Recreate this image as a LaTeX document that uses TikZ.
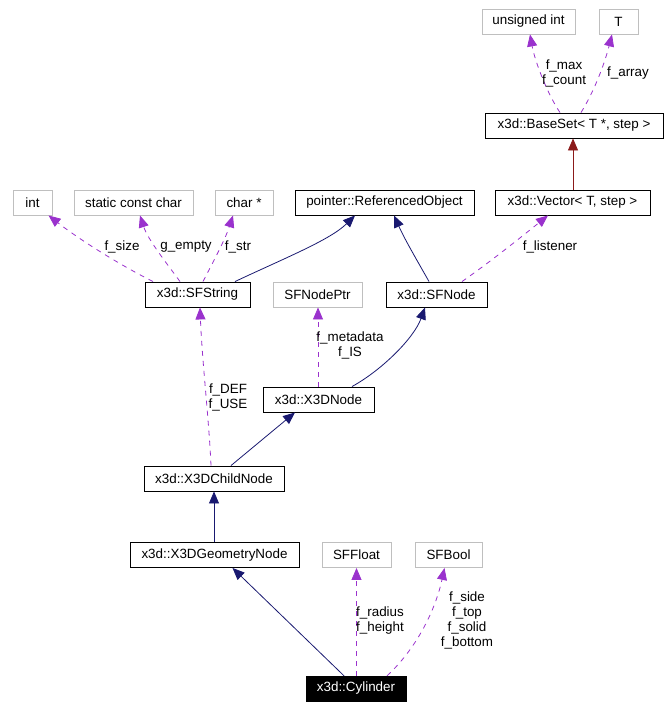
\documentclass[tikz,border=0pt]{standalone}
\usepackage{fontspec}
\setmainfont{Liberation Sans}
\usetikzlibrary{arrows.meta}
\definecolor{usecol}{RGB}{154,50,205}
\definecolor{inhcol}{RGB}{25,25,112}
\definecolor{tplcol}{RGB}{139,26,26}
\definecolor{greybox}{RGB}{191,191,191}
\begin{document}
\begin{tikzpicture}[x=1pt,y=-1pt,
  font=\fontsize{13.4}{15}\selectfont,
  cls/.style={draw=black, line width=0.9pt, minimum height=25pt, inner sep=0pt, fill=white},
  ext/.style={draw=greybox, line width=0.9pt, minimum height=25pt, inner sep=0pt, fill=white},
  cur/.style={draw=black, fill=black, text=white, minimum height=25pt, inner sep=0pt},
  tip/.style={-{Triangle[length=12pt,width=10pt]}},
  inh/.style={tip, draw=inhcol, fill=none, line width=0.8pt},
  tpl/.style={tip, draw=tplcol, line width=0.8pt},
  use/.style={tip, draw=usecol, line width=0.8pt, dash pattern=on 5pt off 5pt},
  lbl/.style={align=center, inner sep=0pt}]
\useasboundingbox (0,0) rectangle (668,708);
% nodes
\node[ext, minimum width=93pt] (uint) at (528.5,21.5) {unsigned int};
\node[ext, minimum width=39pt] (T) at (618.5,21.5) {T};
\node[cls, minimum width=178pt] (baseset) at (574,125.5) {x3d::BaseSet\textless{} T *, step \textgreater};
\node[cls, minimum width=155pt] (vector) at (572.5,202.5) {x3d::Vector\textless{} T, step \textgreater};
\node[ext, minimum width=39pt] (int) at (32.5,202.5) {int};
\node[ext, minimum width=119pt] (scc) at (133.5,202.5) {static const char};
\node[ext, minimum width=58pt] (charp) at (244,202.5) {char *};
\node[cls, minimum width=179pt] (refobj) at (384.5,202.5) {pointer::ReferencedObject};
\node[cls, minimum width=105pt] (sfstring) at (197.5,294.5) {x3d::SFString};
\node[ext, minimum width=89pt] (sfnodeptr) at (317.5,294.5) {SFNodePtr};
\node[cls, minimum width=101pt] (sfnode) at (436.5,294.5) {x3d::SFNode};
\node[cls, minimum width=111pt] (x3dnode) at (318.5,399.5) {x3d::X3DNode};
\node[cls, minimum width=140pt] (child) at (214,478.5) {x3d::X3DChildNode};
\node[cls, minimum width=169pt] (geom) at (214.5,555) {x3d::X3DGeometryNode};
\node[ext, minimum width=69pt] (sffloat) at (356.5,555) {SFFloat};
\node[ext, minimum width=67pt] (sfbool) at (448.5,555) {SFBool};
\node[cur, minimum width=100pt] (cyl) at (356,688.5) {x3d::Cylinder};
% edges
\draw[tpl] ([xshift=0.5pt]vector.north) -- ([xshift=-1pt]baseset.south);
\draw[use] ([xshift=-14pt]baseset.north) .. controls (548,95) and (535,62) .. ([xshift=1.5pt]uint.south);
\draw[use] ([xshift=7pt]baseset.north) .. controls (595,90) and (605,62) .. ([xshift=-6.5pt]T.south);
\draw[use] ([xshift=-44.5pt]sfstring.north) .. controls (120,265) and (80,240) .. ([xshift=16pt]int.south);
\draw[use] ([xshift=-17.5pt]sfstring.north) .. controls (168,265) and (148,240) .. ([xshift=6.5pt]scc.south);
\draw[use] ([xshift=5.5pt]sfstring.north) .. controls (213,262) and (225,240) .. ([xshift=-11pt]charp.south);
\draw[inh] ([xshift=37.5pt]sfstring.north) .. controls (285,258) and (330,240) .. ([xshift=-29.5pt]refobj.south);
\draw[inh] ([xshift=-7.5pt]sfnode.north) .. controls (418,262) and (405,240) .. ([xshift=9.5pt]refobj.south);
\draw[use] ([xshift=25.5pt]sfnode.north) .. controls (490,262) and (520,238) .. ([xshift=-24.5pt]vector.south);
\draw[use] ([xshift=-0.5pt]x3dnode.north) -- ([xshift=0.5pt]sfnodeptr.south);
\draw[inh] ([xshift=33.5pt]x3dnode.north) .. controls (382,370) and (414,338) .. ([xshift=-11.5pt]sfnode.south);
\draw[use] ([xshift=-3pt]child.north) .. controls (209,420) and (202,360) .. ([xshift=2.5pt]sfstring.south);
\draw[inh] ([xshift=17pt]child.north) -- ([xshift=-23.5pt]x3dnode.south);
\draw[inh] ([xshift=-0.5pt]geom.north) -- (child.south);
\draw[inh] ([xshift=-12pt]cyl.north) -- ([xshift=18pt]geom.south);
\draw[use] ([xshift=0.5pt]cyl.north) -- (sffloat.south);
\draw[use] ([xshift=31pt]cyl.north) .. controls (415,650) and (435,612) .. ([xshift=-4pt]sfbool.south);
% labels
\node[lbl] (lmax) at (564,73.5) {f\_max\\f\_count};
\node[lbl] (larr) at (628,73) {f\_array};
\node[lbl] (lsize) at (122,247) {f\_size};
\node[lbl] (lempty) at (186,247) {g\_empty};
\node[lbl] (lstr) at (238,247) {f\_str};
\node[lbl] (llis) at (550,247) {f\_listener};
\node[lbl] (lmeta) at (350,345) {f\_metadata\\f\_IS};
\node[lbl] (ldef) at (228,397.5) {f\_DEF\\f\_USE};
\node[lbl] (lrad) at (380,620.5) {f\_radius\\f\_height};
\node[lbl] (lside) at (467,620) {f\_side\\f\_top\\f\_solid\\f\_bottom};
\end{tikzpicture}
\end{document}
